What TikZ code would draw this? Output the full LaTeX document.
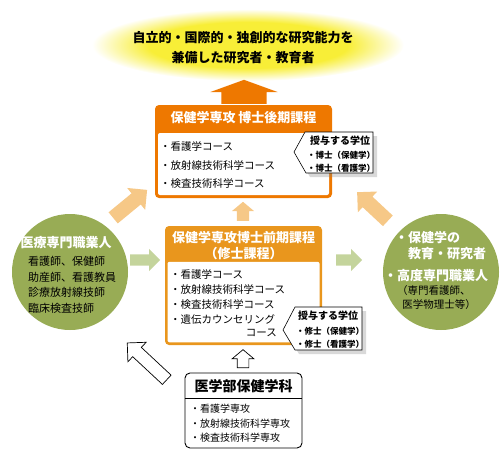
\documentclass[tikz,border=0pt]{standalone}
\usepackage{fontspec}
\setmainfont{Noto Sans CJK JP}
\usepackage{tikz}
\usetikzlibrary{shapes}
\usetikzlibrary{shadows}

\definecolor{col_orange}{RGB}{238,120,0}
\definecolor{col_amber}{RGB}{233,150,29}
\definecolor{col_lightorange}{RGB}{246,200,135}
\definecolor{col_green}{RGB}{152,172,85}
\definecolor{col_lightgreen}{RGB}{196,212,156}
\definecolor{col_glow}{RGB}{248,238,55}

\pgfdeclareradialshading{glow}{\pgfpoint{0bp}{0bp}}{color(0bp)=(col_glow); color(16bp)=(col_glow); color(25bp)=(white); color(50bp)=(white)}

\tikzset{
  goal_glow/.style={ellipse, draw = none, shading = glow, minimum width = 312, minimum height = 72},
  goal_text/.style={font = \bfseries\fontsize{13}{20}\selectfont, align = center, inner sep = 0},
  frame_orange/.style={rectangle, rounded corners = 4, draw = none, fill = col_orange, inner sep = 0},
  frame_amber/.style={rectangle, rounded corners = 4, draw = none, fill = col_amber, inner sep = 0},
  body_white/.style={rectangle, rounded corners = 2, draw = none, fill = white, inner sep = 0},
  title_white/.style={font = \bfseries\fontsize{13}{16}\selectfont, text = white, align = center, inner sep = 0},
  course_list/.style={font = \fontsize{10.5}{18.5}\selectfont, align = left, anchor = west, inner sep = 0},
  degree_box/.style={fill = white, draw = black, line width = 0.6, drop shadow = {opacity = 0.3, shadow xshift = 4pt, shadow yshift = -4pt}},
  degree_title/.style={font = \bfseries\fontsize{10}{12}\selectfont, inner sep = 0},
  degree_list/.style={font = \bfseries\fontsize{8.5}{13}\selectfont, align = left, anchor = west, inner sep = 0},
  career_circle/.style={circle, draw = none, fill = col_green, minimum size = 116, inner sep = 0},
  career_head/.style={font = \bfseries\fontsize{13}{16}\selectfont, text = white, align = left, inner sep = 0},
  career_list/.style={font = \fontsize{11}{15.5}\selectfont, align = left, anchor = west, inner sep = 0},
  arrow_block/.style={single arrow, draw = none, inner xsep = 0, anchor = tail, single arrow tip angle = 90},
  arrow_hollow/.style={single arrow, draw = black, fill = white, line width = 0.7, inner xsep = 0, anchor = tail, single arrow tip angle = 90},
  faculty_box/.style={rectangle, rounded corners = 5, draw = black, line width = 0.9, fill = white, inner sep = 0}
}

\begin{document}
\begin{tikzpicture}[x = 1pt, y = -1pt]
\useasboundingbox (0,0) rectangle (500,460);

%% goal
\node[goal_glow] at (248,45) (goal) {};
\node[goal_text] at (243,48) (goal_txt) {自立的・国際的・独創的な研究能力を\\兼備した研究者・教育者};

%% arrows
\node[arrow_block, fill = col_orange, minimum height = 24, inner ysep = 22.5, single arrow head extend = 11, single arrow tip angle = 140, rotate = 90] at (244,104) (arrow_goal) {};
\node[arrow_block, fill = col_lightorange, minimum height = 19, inner ysep = 6, single arrow head extend = 5, single arrow tip angle = 100, rotate = 90] at (243,221) (arrow_msc_doc) {};
\node[arrow_block, fill = col_lightgreen, minimum height = 30, inner ysep = 5.5, single arrow head extend = 5.5] at (130,260) (arrow_pro_msc) {};
\node[arrow_block, fill = col_lightgreen, minimum height = 26, inner ysep = 5.5, single arrow head extend = 5.5] at (336,260) (arrow_msc_res) {};
\node[arrow_block, fill = col_lightorange, minimum height = 44, inner ysep = 7, single arrow head extend = 7, rotate = 39.5] at (113,218) (arrow_pro_doc) {};
\node[arrow_block, fill = col_lightorange, minimum height = 42, inner ysep = 7, single arrow head extend = 7, rotate = 137] at (388,221) (arrow_res_doc) {};
\node[arrow_hollow, minimum height = 54, inner ysep = 6, single arrow head extend = 7, rotate = 137] at (167,380) (arrow_fac_pro) {};
\node[arrow_hollow, minimum height = 18, inner ysep = 5.5, single arrow head extend = 5, single arrow tip angle = 100, rotate = 90] at (243,368) (arrow_fac_msc) {};

%% doctoral course
\node[frame_orange, minimum width = 177, minimum height = 93] at (243.5,151.5) (doc_frame) {};
\node[body_white, minimum width = 171, minimum height = 62] at (243.5,164) (doc_body) {};
\node[title_white] at (243.5,118) (doc_title) {保健学専攻 博士後期課程};
\node[course_list] at (160,165.5) (doc_list) {・看護学コース\\・放射線技術科学コース\\・検査技術科学コース};

\draw[degree_box] (305,132) -- (373,132) -- (373,173) -- (306,173) -- (294,152) -- cycle;
\node[degree_title] at (340,141) (doc_deg_title) {授与する学位};
\node[degree_list] at (307,161.5) (doc_deg_list) {・博士（保健学）\\・博士（看護学）};

%% master course
\node[frame_amber, minimum width = 157, minimum height = 119] at (243.5,285.5) (msc_frame) {};
\node[body_white, minimum width = 152, minimum height = 80.5] at (243.5,302) (msc_body) {};
\node[title_white] at (243.5,246) (msc_title) {保健学専攻博士前期課程\\（修士課程）};
\node[course_list, font = \fontsize{10.5}{15}\selectfont] at (170,296.5) (msc_list) {・看護学コース\\・放射線技術科学コース\\・検査技術科学コース\\・遺伝カウンセリング};
\node[course_list, anchor = east] at (277,333) (msc_list_end) {コース};

\draw[degree_box] (295,307) -- (362,307) -- (362,350) -- (295,350) -- (283,330) -- cycle;
\node[degree_title] at (328,316) (msc_deg_title) {授与する学位};
\node[degree_list] at (296,337.5) (msc_deg_list) {・修士（保健学）\\・修士（看護学）};

%% careers
\node[career_circle] at (70,272) (pro_circle) {};
\node[career_head] at (66,243) (pro_head) {医療専門職業人};
\node[career_list] at (28,285) (pro_list) {看護師、保健師\\助産師、看護教員\\診療放射線技師\\臨床検査技師};

\node[career_circle] at (441,272) (res_circle) {};
\node[career_head, anchor = west] at (395,246) (res_head) {・保健学の\\　教育・研究者};
\node[career_head, anchor = west] at (384,276) (res_head_b) {・高度専門職業人};
\node[career_list, font = \fontsize{10.5}{14}\selectfont] at (397,298) (res_list) {（専門看護師、\\\hspace{0.5em}医学物理士等）};

%% faculty
\node[faculty_box, minimum width = 117, minimum height = 75] at (243.5,410.5) (fac_box) {};
\coordinate (fac_split) at (243.5,398);
\draw[line width = 0.9] (fac_split -| fac_box.west) -- (fac_split -| fac_box.east);
\node[font = \bfseries\fontsize{14}{16}\selectfont, inner sep = 0] at (243.5,386.5) (fac_title) {医学部保健学科};
\node[course_list, font = \fontsize{10}{14.5}\selectfont] at (190,423.5) (fac_list) {・看護学専攻\\・放射線技術科学専攻\\・検査技術科学専攻};

\end{tikzpicture}
\end{document}
